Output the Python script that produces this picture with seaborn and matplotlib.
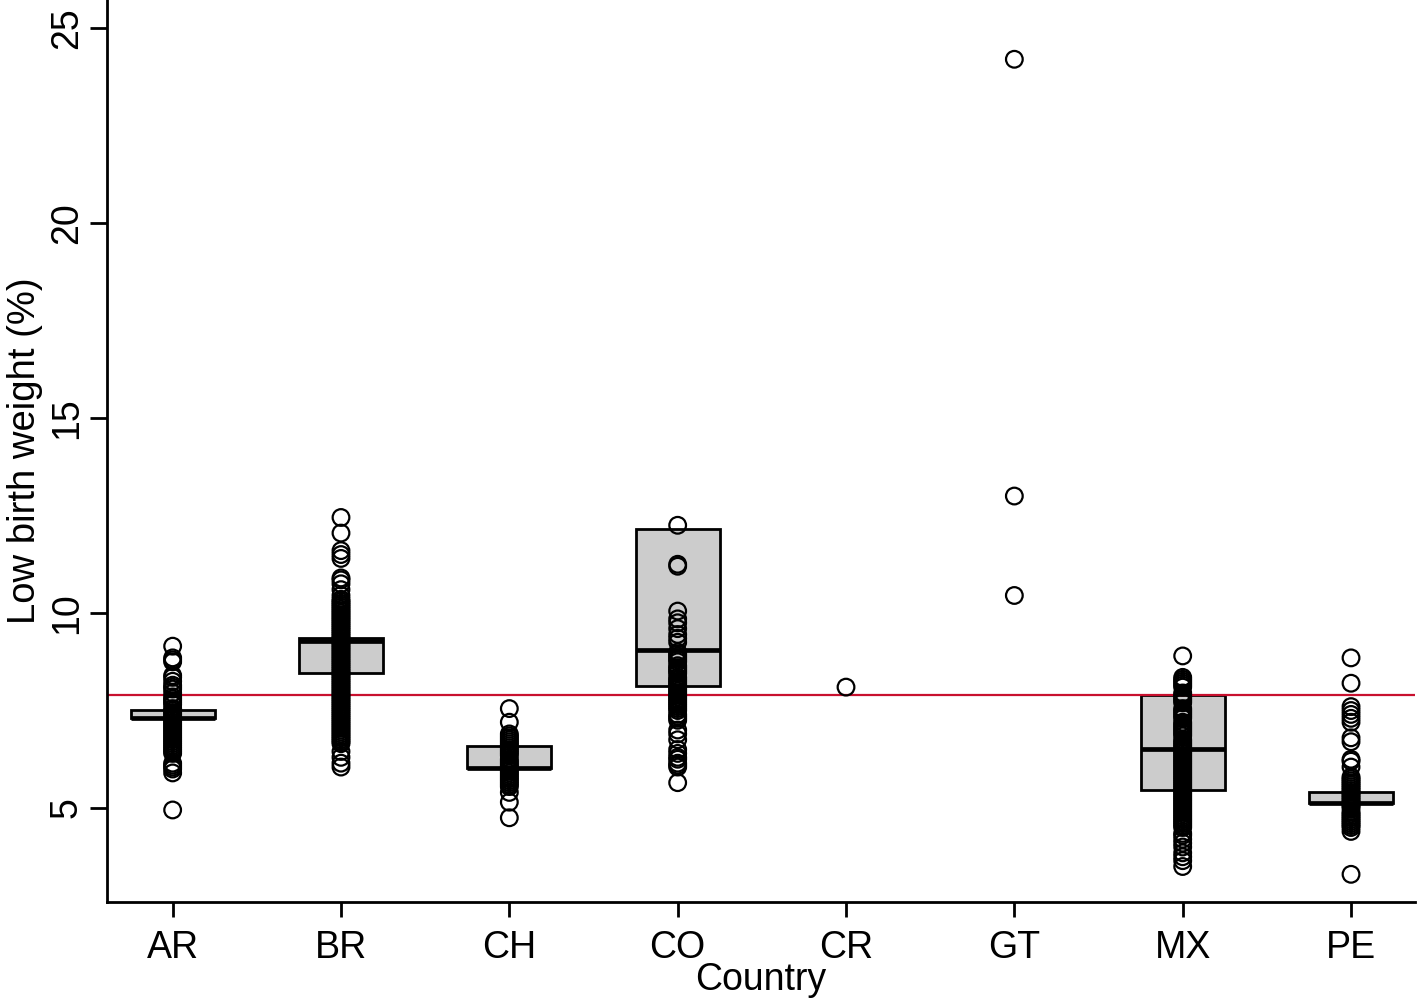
import pandas as pd
import matplotlib
matplotlib.use("Agg")
import matplotlib.pyplot as plt
import seaborn as sns

# low birth weight (%) per municipality
countries = ['AR', 'BR', 'CH', 'CO', 'CR', 'GT', 'MX', 'PE']

ar = [4.95, 5.9, 6.0, 6.05, 6.1, 6.15,
      6.4, 6.45, 6.5, 6.55, 6.6, 6.65, 6.7, 6.75, 6.8, 6.85, 6.9, 6.95,
      7.0, 7.05, 7.1, 7.15, 7.2, 7.25, 7.3, 7.35, 7.4, 7.45, 7.5, 7.55,
      7.65, 7.7, 7.75, 7.8, 7.85, 7.95, 8.05, 8.1, 8.15, 8.25, 8.35, 8.4,
      8.75, 8.8, 8.85, 9.15]
br = [6.05, 6.15, 6.3, 6.45,
      6.65, 6.7, 6.75, 6.8, 6.85, 6.9, 6.95, 7.0, 7.05, 7.1, 7.15, 7.2,
      7.25, 7.3, 7.35, 7.4, 7.45, 7.5, 7.55, 7.6, 7.65, 7.7, 7.75, 7.8,
      7.85, 7.9, 7.95, 8.0, 8.05, 8.1, 8.15, 8.2, 8.25, 8.3, 8.35, 8.4,
      8.45, 8.5, 8.55, 8.6, 8.65, 8.7, 8.75, 8.8, 8.85, 8.9, 8.95, 9.0,
      9.05, 9.1, 9.15, 9.2, 9.25, 9.3, 9.35, 9.4, 9.45, 9.5, 9.55, 9.6,
      9.65, 9.7, 9.75, 9.8, 9.85, 9.9, 9.95, 10.0, 10.05, 10.1, 10.15,
      10.2, 10.25, 10.3, 10.35,
      10.45, 10.6, 10.75, 10.85, 10.9, 11.4, 11.5, 11.6, 12.05, 12.45]
ch = [4.75, 5.15, 5.4,
      5.55, 5.6, 5.65, 5.7, 5.75, 5.8, 5.85, 5.9, 5.95, 6.0, 6.05, 6.1,
      6.15, 6.2, 6.25, 6.35, 6.4, 6.45, 6.5, 6.55, 6.6, 6.65, 6.7, 6.75,
      6.8, 6.85, 6.9,
      7.2, 7.55]
co = [5.65, 6.05, 6.1, 6.15, 6.25, 6.3, 6.4, 6.5, 6.75, 6.9, 7.0,
      7.25, 7.3, 7.35, 7.4, 7.5, 7.55, 7.6, 7.65, 7.7, 7.75, 7.8, 7.85,
      7.9, 7.95, 8.0, 8.05, 8.1, 8.15, 8.2, 8.25, 8.3, 8.35, 8.45, 8.5,
      8.55, 8.6, 8.65, 8.75, 8.8, 8.85, 8.9, 8.95, 9.0,
      9.25, 9.35, 9.45, 9.6, 9.75, 9.85, 10.05, 11.2, 11.25, 12.25]
cr = [8.1]
gt = [10.45, 13.0, 24.2]
mx = [3.5, 3.65, 3.75, 3.85, 4.0, 4.1, 4.2, 4.3, 4.35,
      4.5, 4.55, 4.6, 4.65, 4.7, 4.75, 4.8, 4.85, 4.9, 4.95, 5.0, 5.05,
      5.1, 5.15, 5.2, 5.25, 5.3, 5.35, 5.4, 5.45, 5.5, 5.55, 5.6, 5.65,
      5.7, 5.75, 5.8, 5.85, 5.9, 5.95, 6.0, 6.05, 6.1, 6.15, 6.2, 6.25,
      6.3, 6.35, 6.4, 6.45, 6.5, 6.55, 6.6, 6.65, 6.7, 6.75, 6.85, 6.9,
      6.95, 7.0, 7.05, 7.1, 7.15, 7.2, 7.3, 7.35, 7.4, 7.45, 7.5, 7.55,
      7.7, 7.75, 7.8, 7.85, 7.9, 7.95, 8.1, 8.15, 8.2, 8.25, 8.3, 8.35,
      8.9]
pe = [3.3, 4.4, 4.5,
      4.55, 4.6, 4.65, 4.7, 4.75, 4.8, 4.85, 4.9, 5.0, 5.05, 5.1, 5.15,
      5.2, 5.25, 5.3, 5.35, 5.4, 5.45, 5.5, 5.55, 5.6, 5.65, 5.7, 5.75, 5.8,
      6.05, 6.2, 6.25, 6.7, 6.8, 7.2, 7.3, 7.4, 7.5, 7.6, 8.2, 8.85]

# box summaries (CR and GT have no box)
box_countries = ['AR', 'BR', 'CH', 'CO', 'MX', 'PE']
q1 = [7.31, 8.46, 6.03, 8.13, 5.46, 5.13]
med = [7.31, 9.28, 6.03, 9.05, 6.52, 5.13]
q3 = [7.51, 9.36, 6.59, 12.15, 7.90, 5.41]

ref_line = 7.9

all_vals = [ar, br, ch, co, cr, gt, mx, pe]
rows = [(c, v) for c, vals in zip(countries, all_vals) for v in vals]
df = pd.DataFrame(rows, columns=['Country', 'LBW'])

sns.set_style('white')
plt.rcParams['font.family'] = ['Liberation Sans', 'DejaVu Sans']
plt.rcParams['text.color'] = 'black'
plt.rcParams['axes.labelcolor'] = 'black'
plt.rcParams['xtick.color'] = 'black'
plt.rcParams['ytick.color'] = 'black'

fig = plt.figure(figsize=(14.18, 10), dpi=100)
ax = fig.add_axes([107 / 1418, 0.098, (1415 - 107) / 1418, 0.902])

stats = []
for c, a, m, b in zip(box_countries, q1, med, q3):
    stats.append(dict(label=c, q1=a, med=m, q3=b, whislo=a, whishi=b, fliers=[]))
box_pos = [countries.index(c) for c in box_countries]
ax.bxp(stats, positions=box_pos, widths=0.5, patch_artist=True,
       showcaps=False, showfliers=False, manage_ticks=False,
       boxprops=dict(facecolor='#cccccc', edgecolor='black', linewidth=2),
       medianprops=dict(color='black', linewidth=3.4),
       whiskerprops=dict(linewidth=0))

ax.axhline(ref_line, color='#C8102E', linewidth=1.6, zorder=2.5)

sns.stripplot(data=df, x='Country', y='LBW', order=countries, jitter=False,
              marker='o', size=12, linewidth=1.6, color='black', ax=ax, zorder=3)
for coll in ax.collections:
    coll.set_facecolor('none')
    coll.set_edgecolor('black')

ax.set_xlim(-0.39, 7.38)
ax.set_ylim(2.59, 25.72)
ax.set_yticks([5, 10, 15, 20, 25])
ax.set_xticks(range(len(countries)))
ax.set_xticklabels(countries)

for s in ['top', 'right']:
    ax.spines[s].set_visible(False)
for s in ['left', 'bottom']:
    ax.spines[s].set_linewidth(2)
    ax.spines[s].set_color('black')

ax.tick_params(axis='x', length=11, width=2, labelsize=27, pad=9, bottom=True)
ax.tick_params(axis='y', length=12, width=2, labelsize=27, pad=4, left=True)
for lab in ax.get_yticklabels():
    lab.set_rotation(90)
    lab.set_va('center')

ax.set_xlabel('Country', fontsize=27, labelpad=-3)
ax.set_ylabel('Low birth weight (%)', fontsize=27.5, labelpad=4)
ax.grid(False)

fig.savefig('out.png', dpi=100)
